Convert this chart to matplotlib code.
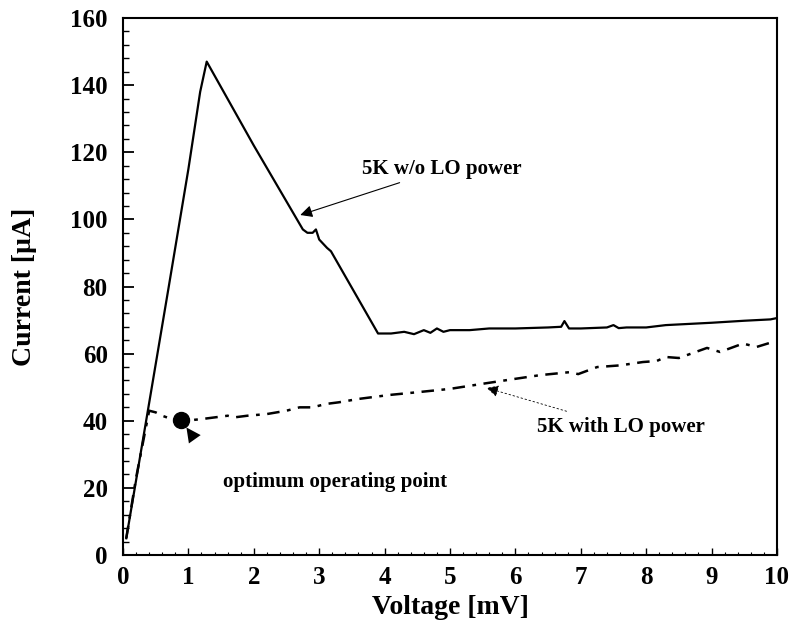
import matplotlib
matplotlib.use("Agg")
import matplotlib.pyplot as plt
from matplotlib.ticker import MultipleLocator

plt.rcParams["font.family"] = ["Liberation Serif", "DejaVu Serif"]
plt.rcParams["font.weight"] = "bold"

# I-V curve without LO power (solid)
volt_no_lo = [0.05, 0.38, 0.7, 1.0, 1.18, 1.28, 2.0, 2.75, 2.82, 2.9, 2.95, 3.0,
              3.12, 3.18, 3.9, 4.1, 4.3, 4.45, 4.6, 4.7, 4.8, 4.9, 5.0, 5.3, 5.6, 6.0,
              6.5, 6.7, 6.75, 6.82, 7.0, 7.4, 7.5, 7.58, 7.7, 8.0, 8.3, 8.5, 9.0, 9.5,
              9.9, 10.0]
curr_no_lo = [5, 43, 80, 115, 138, 147, 122, 97, 96, 96, 97, 94,
              91.5, 90.5, 66, 66, 66.5, 65.8, 67, 66.2, 67.5, 66.5, 67, 67, 67.5, 67.5,
              67.8, 68, 69.7, 67.5, 67.5, 67.8, 68.5, 67.6, 67.8, 67.8, 68.5, 68.7, 69.2, 69.8,
              70.2, 70.6]

# I-V curve with LO power (dash-dot)
volt_lo = [0.05, 0.2, 0.4, 0.5, 0.6, 0.7, 0.8, 0.9, 1.0, 1.1, 1.2, 1.4, 1.6, 1.7,
           1.9, 2.2, 2.5, 2.7, 2.9, 3.1, 3.3, 3.6, 4.08, 4.5, 5.0, 5.56, 6.0, 6.38,
           6.84, 6.96, 7.25, 7.6, 7.95, 8.16, 8.3, 8.5, 8.93, 9.13, 9.48, 9.69, 9.94, 10.0]
curr_lo = [5, 23, 43, 42.5, 41.5, 40.8, 40.5, 40.2, 40, 40.3, 40.5, 41, 41.5, 41,
           41.5, 42, 43, 44, 44, 45, 45.5, 46.5, 47.7, 48.5, 49.5, 51.2, 52.5, 53.6,
           54.5, 53.9, 56, 56.5, 57.5, 57.8, 59, 58.7, 61.7, 60.5, 63, 62, 63.5, 63.5]

# optimum operating point
opt_v = [0.88]
opt_i = [40.3]

fig = plt.figure(figsize=(7.9, 6.31), dpi=100)
ax = fig.add_axes([0.1557, 0.1204, 0.8278, 0.8511])

ax.plot(volt_no_lo, curr_no_lo, color="black", linewidth=1.6)
ax.plot(volt_lo, curr_lo, color="black", linewidth=1.8,
        linestyle=(0, (5, 3, 1.5, 3)))
ax.plot(opt_v, opt_i, "o", color="black", markersize=11.5)

ax.set_xlim(0, 10)
ax.set_ylim(0, 160)
ax.xaxis.set_major_locator(MultipleLocator(1))
ax.xaxis.set_minor_locator(MultipleLocator(0.2))
ax.yaxis.set_major_locator(MultipleLocator(20))
ax.yaxis.set_minor_locator(MultipleLocator(4))
ax.tick_params(axis="both", which="both", direction="in", top=False, right=False)
ax.tick_params(axis="y", which="major", length=8, width=1.3, labelsize=18, pad=11)
ax.tick_params(axis="y", which="minor", length=4, width=1.0)
ax.tick_params(axis="x", which="major", length=5, width=1.0, labelsize=18, pad=8)
ax.tick_params(axis="x", which="minor", length=2, width=0.8)
for lab in ax.get_xticklabels() + ax.get_yticklabels():
    lab.set_fontweight("bold")
for sp in ax.spines.values():
    sp.set_linewidth(1.5)

ax.set_xlabel("Voltage [mV]", fontsize=20, fontweight="bold", labelpad=4)
ax.set_ylabel("Current [\u00b5A]", fontsize=20, fontweight="bold", labelpad=24)

ax.annotate("5K w/o LO power", xy=(2.71, 101.3), xytext=(3.65, 115),
            fontsize=15, fontweight="bold", va="center", ha="left",
            arrowprops=dict(arrowstyle="-|>", color="black", lw=0.8,
                            mutation_scale=18, shrinkA=2, shrinkB=0))
ax.annotate("5K with LO power", xy=(5.56, 49.8), xytext=(6.33, 38.1),
            fontsize=15, fontweight="bold", va="center", ha="left",
            arrowprops=dict(arrowstyle="-|>", color="black", lw=0.6,
                            linestyle=(0, (2, 3)), mutation_scale=18,
                            shrinkA=8, shrinkB=0))
# arrowhead next to the operating point (no visible shaft in the original)
ax.annotate("", xy=(0.97, 38.0), xytext=(1.17, 32.5),
            arrowprops=dict(arrowstyle="-|>", color="black", lw=0,
                            mutation_scale=26, shrinkA=0, shrinkB=0))
ax.text(1.53, 21.8, "optimum operating point", fontsize=15, fontweight="bold",
        va="center", ha="left")

fig.savefig("out.png", dpi=100)
